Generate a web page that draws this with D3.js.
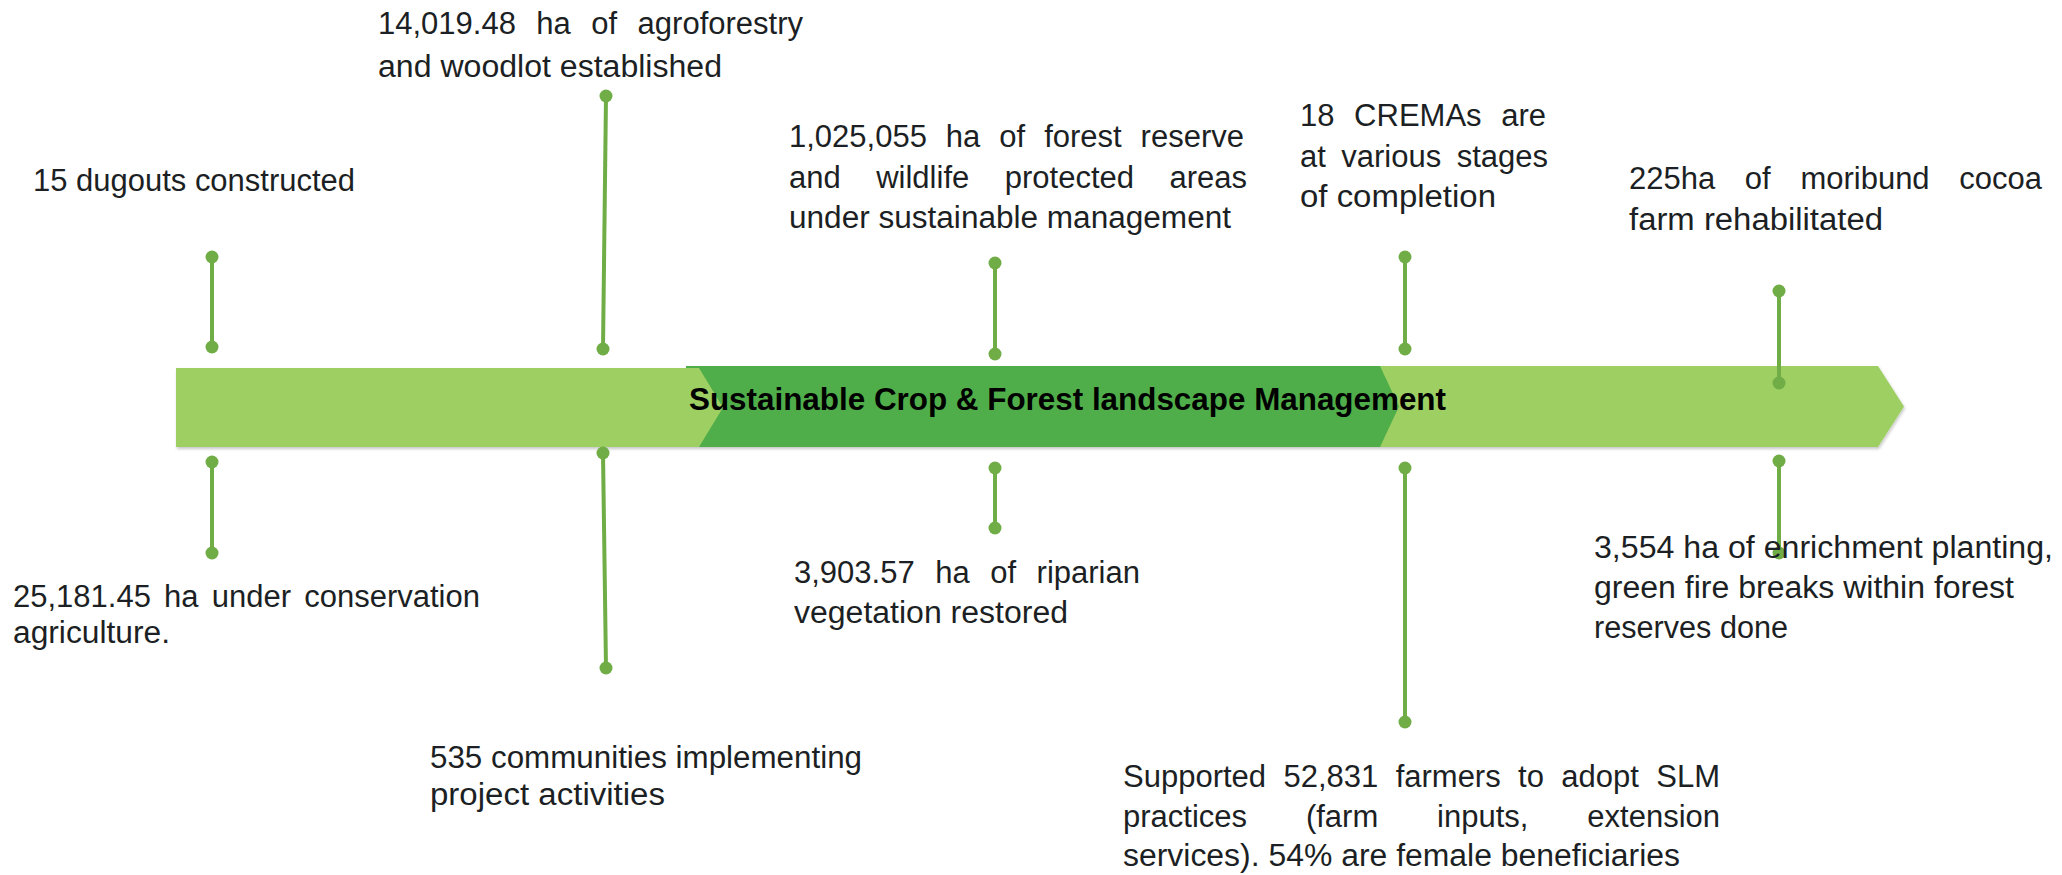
<!DOCTYPE html>
<html>
<head>
<meta charset="utf-8">
<script src="https://cdn.jsdelivr.net/npm/d3@7"></script>
<style>
  body { margin: 0; background: #fff; }
  text { font-family: "Liberation Sans", Arial, sans-serif; }
</style>
</head>
<body>
<svg id="chart" width="2062" height="875"></svg>
<script>
// ---- content ----
const title = "Sustainable Crop & Forest landscape Management";

const blockLines = [
    ["15 dugouts constructed"],
    ["14,019.48 ha of agroforestry", "and woodlot established"],
    ["1,025,055 ha of forest reserve", "and wildlife protected areas", "under sustainable management"],
    ["18 CREMAs are", "at various stages", "of completion"],
    ["225ha of moribund cocoa", "farm rehabilitated"],
    ["25,181.45 ha under conservation", "agriculture."],
    ["535 communities implementing", "project activities"],
    ["3,903.57 ha of riparian", "vegetation restored"],
    ["3,554 ha of enrichment planting,", "green fire breaks within forest", "reserves done"],
    ["Supported 52,831 farmers to adopt SLM", "practices (farm inputs, extension", "services). 54% are female beneficiaries"]
];
// which lines are justified (spread to the right edge)
const justified = [
    [false],
    [true, false],
    [true, true, false],
    [true, true, false],
    [true, false],
    [true, false],
    [false, false],
    [true, false],
    [false, false, false],
    [true, true, false]
];

// ---- layout ----
const blockLeft = [33, 378, 789, 1300, 1629, 13, 430, 794, 1594, 1123];
const blockBase = [191, 34, 147, 126, 189, 607, 768, 583, 558, 787];
const blockGap = [40, 43, 40.5, 40.5, 41, 36, 37, 40, 40, 39.5];
const lineRight = [
    [355],
    [803, 722],
    [1244, 1247, 1231],
    [1546, 1548, 1496],
    [2042, 1883],
    [480, 170],
    [862, 665],
    [1140, 1068],
    [2053, 2014, 1788],
    [1720, 1720, 1680]
];

// connectors: x1, y1, x2, y2
const connectors = [
    [212, 257, 212, 347],
    [606, 96, 603, 349],
    [995, 263, 995, 354],
    [1405, 257, 1405, 349],
    [1779, 291, 1779, 383],
    [212, 462, 212, 553],
    [603, 453, 606, 668],
    [995, 468, 995, 528],
    [1405, 468, 1405, 722],
    [1779, 461, 1779, 553]
];

const segStart = [176, 686, 1355];
const segEnd = [699, 1380, 1878];
const segTip = [24, 19, 26];
const segTop = [368, 366, 366];
const segColor = ["#9dcf64", "#50ae48", "#9dcf64"];
const bandBottom = 447;
const lineColor = "#70ad47";
const fontSize = 31;

const svg = d3.select("#chart");

const defs = svg.append("defs");
const shadow = defs.append("filter").attr("id", "shadow")
    .attr("x", "-5%").attr("y", "-20%").attr("width", "110%").attr("height", "150%");
shadow.append("feDropShadow")
    .attr("dx", 1).attr("dy", 2).attr("stdDeviation", 1.5)
    .attr("flood-color", "#000").attr("flood-opacity", 0.22);

// BAND - drawn back to front so each chevron tip sits over the next segment
const band = svg.append("g").attr("filter", "url(#shadow)");
for (let i = segStart.length - 1; i >= 0; i--) {
    const midY = (segTop[i] + bandBottom) / 2;
    const pts = [
        [segStart[i], segTop[i]],
        [segEnd[i], segTop[i]],
        [segEnd[i] + segTip[i], midY],
        [segEnd[i], bandBottom],
        [segStart[i], bandBottom]
    ];
    band.append("path")
        .attr("d", d3.line()(pts) + "Z")
        .attr("fill", segColor[i]);
}

svg.append("text")
    .attr("x", 689)
    .attr("y", 410)
    .attr("textLength", 757)
    .attr("lengthAdjust", "spacingAndGlyphs")
    .style("font-size", fontSize + "px")
    .style("font-weight", "bold")
    .style("fill", "#000")
    .text(title);

// CONNECTORS
const conn = svg.append("g");
for (const c of connectors) {
    conn.append("line")
        .attr("x1", c[0]).attr("y1", c[1])
        .attr("x2", c[2]).attr("y2", c[3])
        .style("stroke", lineColor)
        .style("stroke-width", 4);
    conn.append("circle").attr("cx", c[0]).attr("cy", c[1]).attr("r", 6.5).style("fill", lineColor);
    conn.append("circle").attr("cx", c[2]).attr("cy", c[3]).attr("r", 6.5).style("fill", lineColor);
}

// LABELS
const labels = svg.append("g");
blockLines.forEach(function (lines, b) {
    lines.forEach(function (txt, l) {
        const width = lineRight[b][l] - blockLeft[b];
        const t = labels.append("text")
            .attr("x", blockLeft[b])
            .attr("y", blockBase[b] + l * blockGap[b])
            .style("font-size", fontSize + "px")
            .style("fill", "#1c1f23")
            .text(txt);
        if (justified[b][l]) {
            const natural = t.node().getComputedTextLength();
            const spaces = txt.split(" ").length - 1;
            const ws = Math.max(0, (width - natural) / spaces);
            t.attr("word-spacing", ws);
        }
        t.attr("textLength", width).attr("lengthAdjust", "spacingAndGlyphs");
    });
});
</script>
</body>
</html>
